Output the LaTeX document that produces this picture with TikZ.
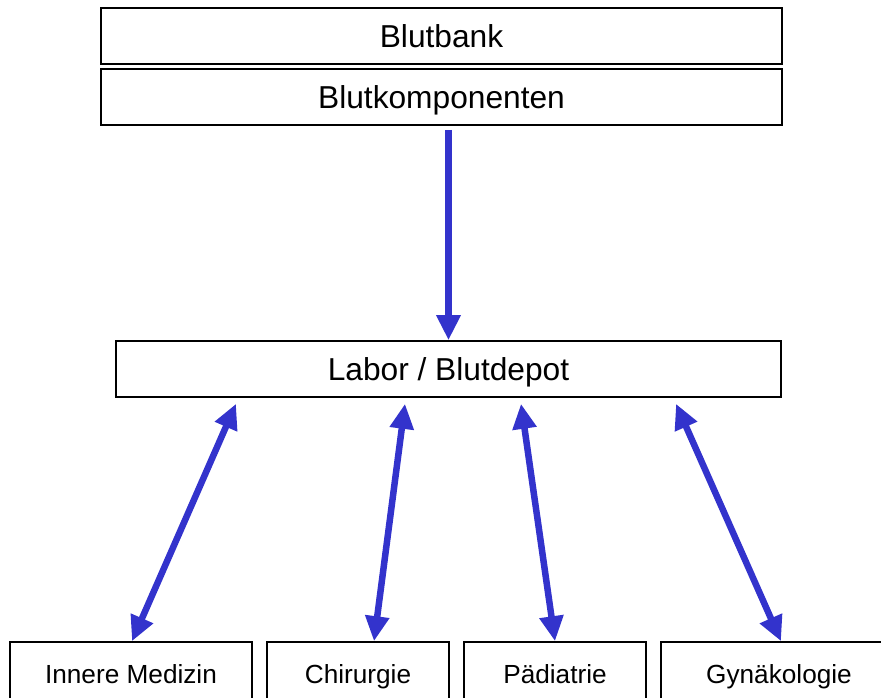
\documentclass[tikz,border=0pt]{standalone}
\usepackage{fontspec}
\setmainfont{Liberation Sans}
\usetikzlibrary{arrows.meta}
\usetikzlibrary{calc}

\definecolor{blutblau}{RGB}{51,51,204}

\begin{document}
\begin{tikzpicture}[x=1pt, y=-1pt,
  box/.style={draw, line width=1.6pt, inner sep=0pt, minimum height=56pt},
  big/.style={font=\fontsize{31.7}{36}\selectfont, text height=24pt, text depth=2pt},
  small/.style={font=\fontsize{26.2}{30}\selectfont, text height=20pt, text depth=0pt,
    minimum height=63pt},
  flow/.style={blutblau, line width=7pt, -{Triangle[length=25pt, width=23pt]}},
  both/.style={blutblau, line width=6.5pt, {Triangle[length=25pt, width=23pt]}-{Triangle[length=25pt, width=23pt]}}]
\clip (0, 0) rectangle (881, 697);

\node[box, big, minimum width=681pt] (bank) at (441.5, 36) {Blutbank};
\node[box, big, minimum width=681pt] (komp) at (441.5, 97) {Blutkomponenten};
\node[box, big, minimum width=665pt] (labor) at (448.5, 369) {Labor / Blutdepot};

% Stationen, unten abgeschnitten
\node[box, small, minimum width=242pt] (innere) at (131, 673.5) {Innere Medizin};
\node[box, small, minimum width=182pt] (chir) at (358, 673.5) {Chirurgie};
\node[box, small, minimum width=182pt] (paed) at (555, 673.5) {Pädiatrie};
\node[box, small, minimum width=236pt] (gyn) at (779, 673.5) {Gynäkologie};

\draw[flow, shorten <=4pt] (labor.north |- komp.south) -- (labor.north);

\draw[both] ($(labor.south) + (-212.5, 6)$) -- ($(innere.north) + (1, 0)$);
\draw[both] ($(labor.south) + (-43.5, 6)$) -- ($(chir.north) + (16, 0)$);
\draw[both] ($(labor.south) + (72.5, 6)$) -- (paed.north);
\draw[both] ($(labor.south) + (227.5, 6)$) -- ($(gyn.north) + (2, 0)$);
\end{tikzpicture}
\end{document}
